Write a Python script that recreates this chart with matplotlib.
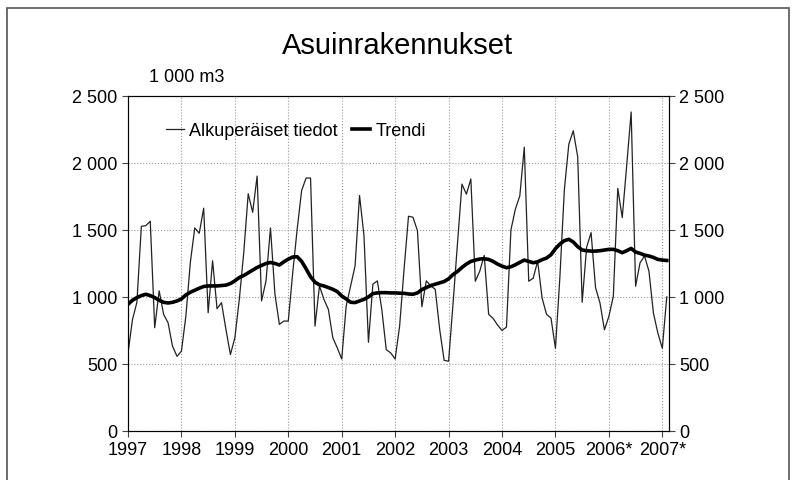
import matplotlib
matplotlib.use("Agg")
import matplotlib.pyplot as plt
import numpy as np
from matplotlib.patches import Rectangle

plt.rcParams['font.family'] = ['Liberation Sans Narrow', 'Liberation Sans', 'DejaVu Sans']

# monthly values, Jan 1997 .. Feb 2007 (1 000 m3)
original = [580, 830, 960, 1527, 1532, 1565, 770, 1045, 870, 807, 632, 557,
            595, 857, 1257, 1515, 1475, 1662, 882, 1270, 912, 957, 757, 570,
            695, 982, 1332, 1770, 1632, 1902, 970, 1120, 1515, 1020, 795, 820,
            820, 1182, 1507, 1795, 1887, 1887, 782, 1082, 982, 907, 695, 620,
            537, 932, 1082, 1232, 1757, 1457, 662, 1095, 1120, 907, 607, 582,
            537, 782, 1207, 1602, 1595, 1495, 927, 1120, 1082, 1057, 757, 527,
            520, 950, 1400, 1842, 1767, 1880, 1117, 1192, 1310, 870, 840, 790,
            750, 775, 1500, 1655, 1755, 2117, 1117, 1140, 1267, 992, 870, 842,
            617, 1150, 1800, 2140, 2240, 2045, 960, 1370, 1480, 1070, 955, 755,
            855, 1005, 1810, 1592, 1980, 2380, 1080, 1255, 1305, 1192, 880, 730,
            617, 1000]

trend = [945, 975, 995, 1010, 1020, 1010, 995, 975, 960, 955, 960, 970,
         985, 1015, 1035, 1050, 1065, 1078, 1082, 1082, 1082, 1085, 1088, 1100,
         1120, 1145, 1160, 1180, 1200, 1220, 1235, 1250, 1257, 1250, 1238, 1262,
         1282, 1298, 1300, 1265, 1210, 1150, 1110, 1090, 1082, 1070, 1057, 1040,
         1007, 985, 960, 958, 970, 982, 1000, 1025, 1030, 1032, 1032, 1030,
         1030, 1028, 1027, 1022, 1020, 1030, 1055, 1070, 1085, 1095, 1105, 1115,
         1135, 1167, 1190, 1220, 1245, 1265, 1275, 1283, 1285, 1280, 1265, 1245,
         1230, 1218, 1225, 1240, 1258, 1275, 1265, 1255, 1262, 1278, 1290, 1315,
         1360, 1395, 1420, 1430, 1410, 1375, 1350, 1345, 1342, 1342, 1345, 1350,
         1355, 1355, 1345, 1330, 1345, 1362, 1335, 1325, 1312, 1305, 1295, 1280,
         1275, 1272]

years = list(range(1997, 2008))
year_labels = ['1997', '1998', '1999', '2000', '2001', '2002', '2003', '2004',
               '2005', '2006*', '2007*']
y_ticks = [0, 500, 1000, 1500, 2000, 2500]
y_labels = ['0', '500', '1 000', '1 500', '2 000', '2 500']

x = 1997 + np.arange(len(original)) / 12.0

fig = plt.figure(figsize=(7.95, 4.81), dpi=100)
# frame round the whole chart (bottom edge falls outside the picture)
fig.patches.append(Rectangle((7 / 795, -0.1), 782 / 795, 1.1 - 9 / 481,
                             transform=fig.transFigure, fill=False,
                             edgecolor='#555555', linewidth=1.2))

ax = fig.add_axes([0.161, 0.102, 0.6805, 0.6965])
ax.plot(x, original, color='#222222', linewidth=0.9, label='Alkuperäiset tiedot')
ax.plot(x, trend, color='black', linewidth=2.6, label='Trendi')

ax.set_xlim(1997, 1997 + 121.5 / 12)
ax.set_ylim(0, 2500)
ax.set_xticks(years)
ax.set_xticklabels(year_labels)
ax.set_yticks(y_ticks)
ax.set_yticklabels(y_labels)
ax.tick_params(axis='both', labelsize=13, direction='out', length=4, color='#444444')
ax.tick_params(axis='x', pad=3.5)
ax.grid(True, linestyle=':', color='#999999', linewidth=0.8)
for s in ax.spines.values():
    s.set_color('#444444')

ax2 = ax.twinx()
ax2.set_ylim(0, 2500)
ax2.set_yticks(y_ticks)
ax2.set_yticklabels(y_labels)
ax2.tick_params(axis='y', labelsize=13, direction='out', length=4, color='#444444')

ax.legend(loc='upper left', bbox_to_anchor=(0.04, 0.97), ncol=2, frameon=False,
          fontsize=13, handlelength=1.0, handletextpad=0.3, columnspacing=0.8)

fig.text(0.5, 0.905, 'Asuinrakennukset', ha='center', va='center', fontsize=21)
fig.text(0.188, 0.838, '1 000 m3', ha='left', va='center', fontsize=13)

fig.savefig('out.png', dpi=100)
